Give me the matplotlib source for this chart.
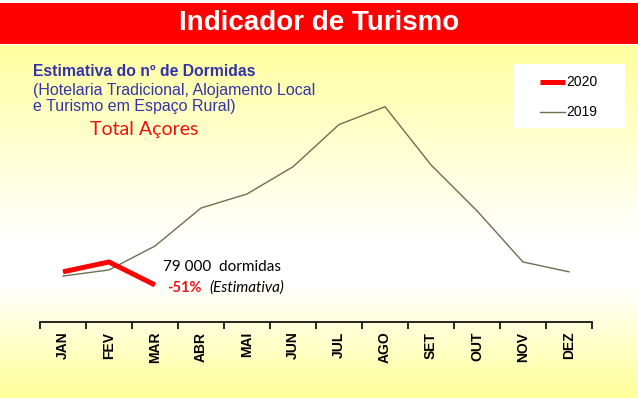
import numpy as np
import matplotlib
matplotlib.use("Agg")
import matplotlib.pyplot as plt
from matplotlib.colors import LinearSegmentedColormap
from matplotlib.lines import Line2D

# data (dormidas)
meses = ["JAN", "FEV", "MAR", "ABR", "MAI", "JUN", "JUL", "AGO", "SET", "OUT", "NOV", "DEZ"]
v2019 = [98000, 111000, 162000, 243000, 273000, 331000, 421000, 459000, 335000, 237000, 128000, 107000]
v2020 = [107000, 128000, 79000]

W, H = 638, 398
fig = plt.figure(figsize=(W / 100, H / 100), dpi=100)


def fx(px):
    return px / W


def fy(py):
    return 1 - py / H


# gradient background (yellow -> white -> yellow)
bg = fig.add_axes([0, 0, 1, 1])
cmap = LinearSegmentedColormap.from_list(
    "bg", [(0.0, "#ffffa0"), (0.55, "#ffffff"), (0.68, "#ffffff"), (1.0, "#ffff99")])
grad = np.linspace(0, 1, 256).reshape(-1, 1)
bg.imshow(grad, aspect="auto", cmap=cmap, extent=[0, 1, 0, fy(45)], origin="upper")
bg.add_patch(plt.Rectangle((0, fy(44)), 1, fy(3) - fy(44), color="#ff0000", lw=0))
# legend box
bg.add_patch(plt.Rectangle((fx(514), fy(128)), fx(625) - fx(514), fy(64) - fy(128),
                           color="white", lw=0))
bg.set_xlim(0, 1)
bg.set_ylim(0, 1)
bg.axis("off")

fig.text(0.5, fy(23), "Indicador de Turismo", color="white", fontsize=20, fontweight="bold",
         family="Liberation Sans", ha="center", va="center")

azul = "#3434a8"
fig.text(fx(33), fy(72), "Estimativa do nº de Dormidas", color=azul, fontsize=11.3,
         fontweight="bold", family="Liberation Sans", va="center")
fig.text(fx(33), fy(90), "(Hotelaria Tradicional, Alojamento Local", color=azul, fontsize=11.5,
         family="Liberation Sans", va="center")
fig.text(fx(33), fy(107), "e Turismo em Espaço Rural)", color=azul, fontsize=11.5,
         family="Liberation Sans", va="center")
fig.text(fx(90), fy(130), "Total Açores", color="#ee1111", fontsize=14, family="Lato", va="center")

# main chart
ax = fig.add_axes([fx(40), fy(322), fx(592) - fx(40), fy(50) - fy(322)])
ax.patch.set_alpha(0)
x = np.arange(len(meses))
l19, = ax.plot(x, v2019, color="#6e6e50", lw=1.0, label="2019")
l20, = ax.plot(x[:len(v2020)], v2020, color="#ff0000", lw=3.6, label="2020", solid_capstyle="butt")
ax.set_xlim(-0.5, 11.5)
ax.set_ylim(0, 580000)
for s in ["top", "right", "left"]:
    ax.spines[s].set_visible(False)
ax.spines["bottom"].set_linewidth(1.2)
ax.set_yticks([])
ax.set_xticks(x)
ax.set_xticklabels(meses, rotation=90, fontweight="bold", fontsize=10, family="Liberation Sans")
ax.set_xticks(np.arange(-0.5, 12, 1), minor=True)
ax.tick_params(axis="x", which="major", length=0, pad=7)
ax.tick_params(axis="x", which="minor", length=5, width=1.2, direction="out")

fig.text(fx(163), fy(267), "79 000  dormidas", color="black", fontsize=11, family="Lato", va="center")
fig.text(fx(167), fy(288), "-51%", color="#ee1111", fontsize=10.5, fontweight="bold", family="Lato",
         va="center")
fig.text(fx(209), fy(288), "(Estimativa)", color="black", fontsize=11, style="italic", family="Lato",
         va="center")

# legend drawn by hand
fig.add_artist(Line2D([fx(540), fx(565)], [fy(82), fy(82)], color=l20.get_color(), lw=3.6,
                      solid_capstyle="butt"))
fig.add_artist(Line2D([fx(540), fx(565)], [fy(112), fy(112)], color=l19.get_color(), lw=1.0))
fig.text(fx(566), fy(82), "2020", fontsize=10, family="Liberation Sans", va="center")
fig.text(fx(566), fy(112), "2019", fontsize=10, family="Liberation Sans", va="center")

fig.savefig("out.png", dpi=100)
